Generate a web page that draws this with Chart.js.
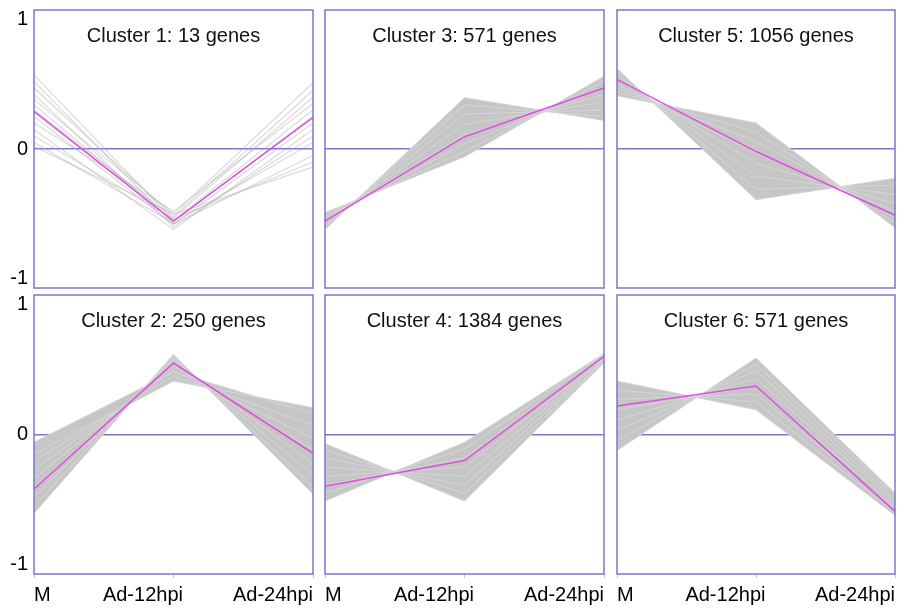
<!DOCTYPE html>
<html lang="en">

<head>
    <meta charset="UTF-8">
    <title>Expression clusters</title>
    <script src="https://cdn.jsdelivr.net/npm/chart.js"></script>
    <style>
        body { margin: 0; background: #fff; width: 914px; height: 608px; position: relative; overflow: hidden; }
        canvas { position: absolute; }
    </style>
</head>

<body>
    <div id="panels"></div>

    <script>
        // time points and y ticks
        const categories = ['M', 'Ad-12hpi', 'Ad-24hpi'];
        const yTicks = [-1, 0, 1];

        // genes per cluster (cluster 1..6)
        const geneCounts = [13, 250, 571, 1384, 1056, 571];

        // cluster centroids (magenta)
        const centroid1 = [0.29, -0.555, 0.244];
        const centroid2 = [-0.418, 0.548, -0.144];
        const centroid3 = [-0.555, 0.095, 0.47];
        const centroid4 = [-0.397, -0.20, 0.60];
        const centroid5 = [0.536, -0.02, -0.51];
        const centroid6 = [0.218, 0.372, -0.59];

        // gene profiles
        const genes1 = [
            [0.57, -0.55, 0.30], [0.52, -0.58, 0.20], [0.47, -0.52, 0.45],
            [0.42, -0.60, 0.10], [0.38, -0.50, 0.51], [0.34, -0.56, 0.25],
            [0.30, -0.53, 0.40], [0.25, -0.58, -0.05], [0.20, -0.48, 0.35],
            [0.15, -0.62, 0.15], [0.10, -0.54, -0.10], [0.05, -0.57, 0.05],
            [0.02, -0.50, -0.14]
        ];
        const genes2 = [
            [-0.605, 0.615, -0.456], [-0.55, 0.60, -0.40], [-0.48, 0.58, -0.31],
            [-0.41, 0.56, -0.22], [-0.34, 0.53, -0.12], [-0.27, 0.49, -0.03],
            [-0.20, 0.45, 0.07], [-0.15, 0.41, 0.205], [-0.06, 0.48, 0.16]
        ];
        const genes3 = [
            [-0.62, 0.395, 0.22], [-0.60, 0.34, 0.25], [-0.58, 0.27, 0.30],
            [-0.565, 0.19, 0.36], [-0.55, 0.11, 0.42], [-0.53, 0.04, 0.47],
            [-0.51, -0.02, 0.52], [-0.49, -0.06, 0.56]
        ];
        const genes4 = [
            [-0.07, -0.51, 0.55], [-0.12, -0.45, 0.56], [-0.18, -0.39, 0.57],
            [-0.25, -0.32, 0.58], [-0.32, -0.25, 0.59], [-0.39, -0.18, 0.60],
            [-0.45, -0.11, 0.61], [-0.51, -0.06, 0.62]
        ];
        const genes5 = [
            [0.62, -0.39, -0.225], [0.60, -0.31, -0.28], [0.57, -0.21, -0.35],
            [0.54, -0.11, -0.42], [0.50, -0.03, -0.48], [0.47, 0.06, -0.53],
            [0.44, 0.13, -0.57], [0.41, 0.20, -0.605]
        ];
        const genes6 = [
            [0.41, 0.19, -0.62], [0.34, 0.25, -0.60], [0.27, 0.31, -0.57],
            [0.19, 0.37, -0.55], [0.11, 0.43, -0.52], [0.03, 0.49, -0.50],
            [-0.05, 0.54, -0.47], [-0.123, 0.587, -0.45]
        ];

        const centroids = [centroid1, centroid2, centroid3, centroid4, centroid5, centroid6];
        const geneSets = [genes1, genes2, genes3, genes4, genes5, genes6];

        // panel grid (plot areas in page pixels)
        const colLeft = [34, 325, 617];
        const colWidth = [279, 279, 278];
        const rowTop = [10, 295];
        const rowHeight = [278, 279];

        const BLUE = '#7878cc';
        const FONT = '"Liberation Sans", Arial, sans-serif';

        const framePlugin = {
            id: 'frame',
            afterDraw(chart, args, opts) {
                const { ctx, chartArea: a } = chart;
                ctx.save();
                ctx.strokeStyle = opts.color;
                ctx.lineWidth = opts.width;
                ctx.strokeRect(a.left, a.top, a.right - a.left, a.bottom - a.top);
                ctx.restore();
            }
        };

        const panelTitle = {
            id: 'panelTitle',
            afterDraw(chart, args, opts) {
                const { ctx, chartArea: a } = chart;
                ctx.save();
                ctx.font = opts.font;
                ctx.fillStyle = opts.color;
                ctx.textAlign = 'center';
                ctx.textBaseline = 'middle';
                ctx.fillText(opts.text, (a.left + a.right) / 2, a.top + opts.offset);
                ctx.restore();
            }
        };

        function makeDatasets(k) {
            const genes = geneSets[k - 1];
            const band = k !== 1;
            const ds = genes.map((g, i) => ({
                data: g,
                borderColor: band ? 'rgb(212,212,212)' : 'rgba(175,175,175,0.45)',
                backgroundColor: 'rgb(198,198,198)',
                borderWidth: band ? 1 : 1.2,
                fill: band && i < genes.length - 1 ? '+1' : false,
                order: 1
            }));
            ds.push({
                data: centroids[k - 1],
                borderColor: '#e050e0',
                borderWidth: 1.6,
                fill: false,
                order: 0
            });
            return ds;
        }

        function drawPanel(k) {
            const col = Math.floor((k - 1) / 2);
            const row = (k - 1) % 2;
            const padL = col === 0 ? 34 : 6;
            const padT = 14, padR = 4;
            const padB = row === 1 ? 34 : 14;   // x axis box height

            const canvas = document.createElement('canvas');
            canvas.width = colWidth[col] + padL + padR;
            canvas.height = rowHeight[row] + padT + padB;
            canvas.style.left = (colLeft[col] - padL) + 'px';
            canvas.style.top = (rowTop[row] - padT) + 'px';
            document.getElementById('panels').appendChild(canvas);

            new Chart(canvas.getContext('2d'), {
                type: 'line',
                data: { labels: categories, datasets: makeDatasets(k) },
                plugins: [framePlugin, panelTitle],
                options: {
                    responsive: false,
                    animation: false,
                    events: [],
                    layout: { padding: { top: padT, right: padR, bottom: 0, left: 0 } },
                    elements: { point: { radius: 0 }, line: { tension: 0 } },
                    plugins: {
                        legend: { display: false },
                        tooltip: { enabled: false },
                        filler: { drawTime: 'beforeDatasetsDraw' },
                        frame: { color: BLUE, width: 1.5 },
                        panelTitle: {
                            text: 'Cluster ' + k + ': ' + geneCounts[k - 1] + ' genes',
                            font: '20px ' + FONT,
                            color: '#111',
                            offset: 26
                        }
                    },
                    scales: {
                        x: {
                            display: row === 1,
                            offset: false,
                            border: { display: false },
                            grid: { drawOnChartArea: false, drawTicks: true, tickLength: 4, tickColor: '#c4c4c4' },
                            ticks: {
                                align: 'inner',
                                autoSkip: false,
                                maxRotation: 0,
                                padding: 5,
                                color: '#000',
                                font: { family: FONT, size: 20 },
                                callback: (v, i) => i === 1 ? categories[i] + '\u00a0'.repeat(11) : categories[i]
                            },
                            afterFit: s => {
                                s.height = padB;
                                s.paddingLeft = 0;
                                s.paddingRight = 0;
                            }
                        },
                        y: {
                            min: -1.07,
                            max: 1.07,
                            afterBuildTicks: s => { s.ticks = yTicks.map(v => ({ value: v })); },
                            border: { display: false },
                            grid: {
                                drawTicks: false,
                                lineWidth: 1.4,
                                color: c => c.tick.value === 0 ? BLUE : 'rgba(0,0,0,0)'
                            },
                            ticks: {
                                display: col === 0,
                                padding: 6,
                                color: '#000',
                                font: { family: FONT, size: 20 }
                            },
                            // labels sit inside the frame, so no extra room above/below
                            afterFit: s => {
                                s.width = padL;
                                s.paddingTop = 0;
                                s.paddingBottom = 0;
                            }
                        }
                    }
                }
            });
        }

        [1, 2, 3, 4, 5, 6].forEach(drawPanel);
    </script>
</body>

</html>
